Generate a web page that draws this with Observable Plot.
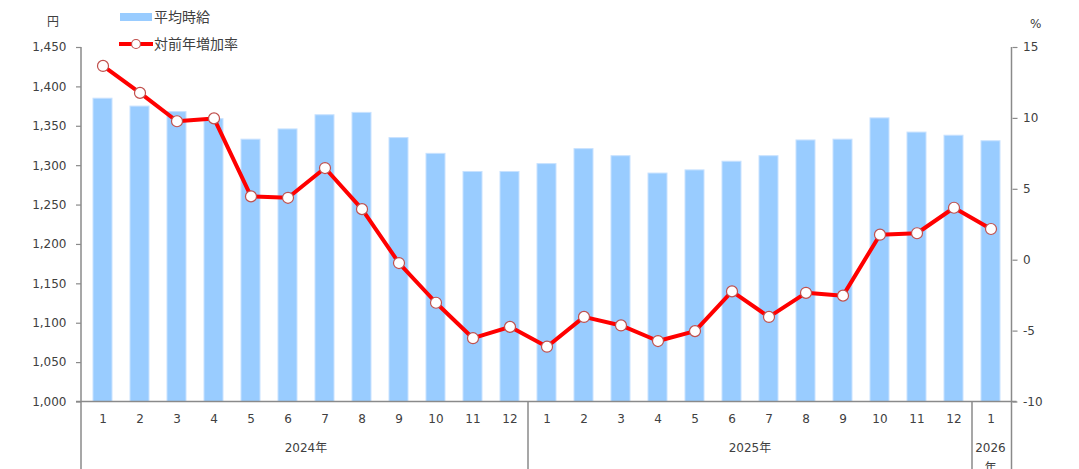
<!DOCTYPE html>
<html><head><meta charset="utf-8">
<script src="https://cdn.jsdelivr.net/npm/d3@7"></script>
<script src="https://cdn.jsdelivr.net/npm/@observablehq/plot@0.6"></script>
<style>
body{margin:0;background:#fff;}
#wrap{position:relative;width:1079px;height:469px;overflow:hidden;font-family:"DejaVu Sans","Noto Sans CJK JP",sans-serif;color:#404040;}
#chart{position:absolute;left:0;top:0;}
#legend{position:absolute;left:0;top:0;}
.unit{position:absolute;font-size:12px;line-height:1;}
</style></head><body>
<div id="wrap">
<div id="chart"></div>
<svg id="legend" width="260" height="60" style="font-family:'DejaVu Sans','Noto Sans CJK JP',sans-serif">
  <rect x="120" y="13" width="32" height="8" fill="#99CCFF"></rect>
  <text x="154" y="17.5" dy="0.35em" font-size="14" fill="#404040">平均時給</text>
  <line x1="119" x2="153" y1="44" y2="44" stroke="#FF0000" stroke-width="4"></line>
  <circle cx="136" cy="44" r="4.5" fill="#fff" stroke="#C0504D" stroke-width="1.2"></circle>
  <text x="154" y="44.5" dy="0.35em" font-size="14" fill="#404040">対前年増加率</text>
</svg>
<div class="unit" style="left:47px;top:16px">円</div>
<div class="unit" style="left:1030px;top:18px">%</div>
</div>
<script>
// ---- data ----
const months = ["1","2","3","4","5","6","7","8","9","10","11","12","1","2","3","4","5","6","7","8","9","10","11","12","1"];
const wage = [1385,1375,1368,1359,1333,1346,1364,1367,1335,1315,1292,1292,1302,1321,1312,1290,1294,1305,1312,1332,1333,1360,1342,1338,1331];
const pct = [13.7,11.8,9.8,10.0,4.5,4.4,6.5,3.6,-0.2,-3.0,-5.5,-4.7,-6.1,-4.0,-4.6,-5.7,-5.0,-2.2,-4.0,-2.3,-2.5,1.8,1.9,3.7,2.2];
const years = [
  {lines:["2024年"], first:0, last:11},
  {lines:["2025年"], first:12, last:23},
  {lines:["2026","年"], first:24, last:24}
];
const wageTicks = [1000,1050,1100,1150,1200,1250,1300,1350,1400,1450];
const pctTicks = [-10,-5,0,5,10,15];
const wageDomain = [1000,1450];
const pctDomain = [-10,15];

// ---- build ----
const rows = months.map((m,i)=>({i, month:m, wage:wage[i], pct:pct[i]}));
const toY = p => wageDomain[0] + (p - pctDomain[0]) * (wageDomain[1]-wageDomain[0])/(pctDomain[1]-pctDomain[0]);
const fromY = v => (v - wageDomain[0]) * (pctDomain[1]-pctDomain[0])/(wageDomain[1]-wageDomain[0]) + pctDomain[0];
const axisColor = "#8a8a8a";
const textColor = "#404040";
const font = "'DejaVu Sans','Noto Sans CJK JP',sans-serif";

const frameMark = (index, scales, values, dims) => {
  const x = scales.x;
  const bw = typeof x.bandwidth === "function" ? x.bandwidth() : x.bandwidth;
  const step = x(1) - x(0);
  const L = dims.marginLeft, R = dims.width - dims.marginRight;
  const T = dims.marginTop, B = dims.height - dims.marginBottom, H = dims.height;
  const g = d3.create("svg:g");
  const ln = (x1,y1,x2,y2) => g.append("line").attr("x1",x1).attr("y1",y1).attr("x2",x2).attr("y2",y2)
      .attr("stroke",axisColor).attr("stroke-width",1.5);
  ln(L - 5, B, R + 5, B);
  ln(L, T, L, H);
  ln(R, T, R, H);
  years.slice(0,-1).forEach(yr => {
    const sx = x(yr.last) + bw/2 + step/2;
    ln(sx, B, sx, H);
  });
  years.forEach(yr => {
    const cx = (x(yr.first) + x(yr.last) + bw) / 2;
    const t = g.append("text").attr("text-anchor","middle").attr("fill",textColor)
      .attr("font-size",12).attr("font-family",font);
    yr.lines.forEach((s,k) => t.append("tspan").attr("x",cx).attr("y",B + 46.5 + k*19.5).attr("dy","0.35em").text(s));
  });
  return g.node();
};

const chart = Plot.plot({
  width: 1079, height: 469,
  marginLeft: 81, marginRight: 67.5, marginTop: 47, marginBottom: 67.5,
  style: {fontFamily: font, fontSize: "12px", color: textColor, background: "white"},
  x: {type: "band", domain: d3.range(months.length), paddingInner: 0.49, paddingOuter: 0.245},
  y: {domain: wageDomain},
  marks: [
    Plot.barY(rows, {x: "i", y1: wageDomain[0], y2: "wage", fill: "#99CCFF", stroke: "#C8E2FF", strokeWidth: 1}),
    frameMark,
    Plot.axisX({tickFormat: i => months[i], tickSize: 0, tickPadding: 12, fill: textColor, fontSize: 12, label: null}),
    Plot.axisY({anchor: "left", ticks: wageTicks, tickFormat: d3.format(","), tickSize: 5, tickPadding: 10, stroke: axisColor, strokeWidth: 1.2, fill: textColor, fontSize: 12, label: null}),
    Plot.axisY({anchor: "right", ticks: pctTicks.map(toY), tickFormat: v => String(Math.round(fromY(v))), tickSize: 5, tickPadding: 6, stroke: axisColor, strokeWidth: 1.2, fill: textColor, fontSize: 12, label: null}),
    Plot.line(rows, {x: "i", y: d => toY(d.pct), stroke: "#FF0000", strokeWidth: 4, strokeLinejoin: "round"}),
    Plot.dot(rows, {x: "i", y: d => toY(d.pct), r: 5.5, fill: "white", stroke: "#C0504D", strokeWidth: 1.2})
  ]
});
document.getElementById("chart").appendChild(chart);
</script>
</body></html>
